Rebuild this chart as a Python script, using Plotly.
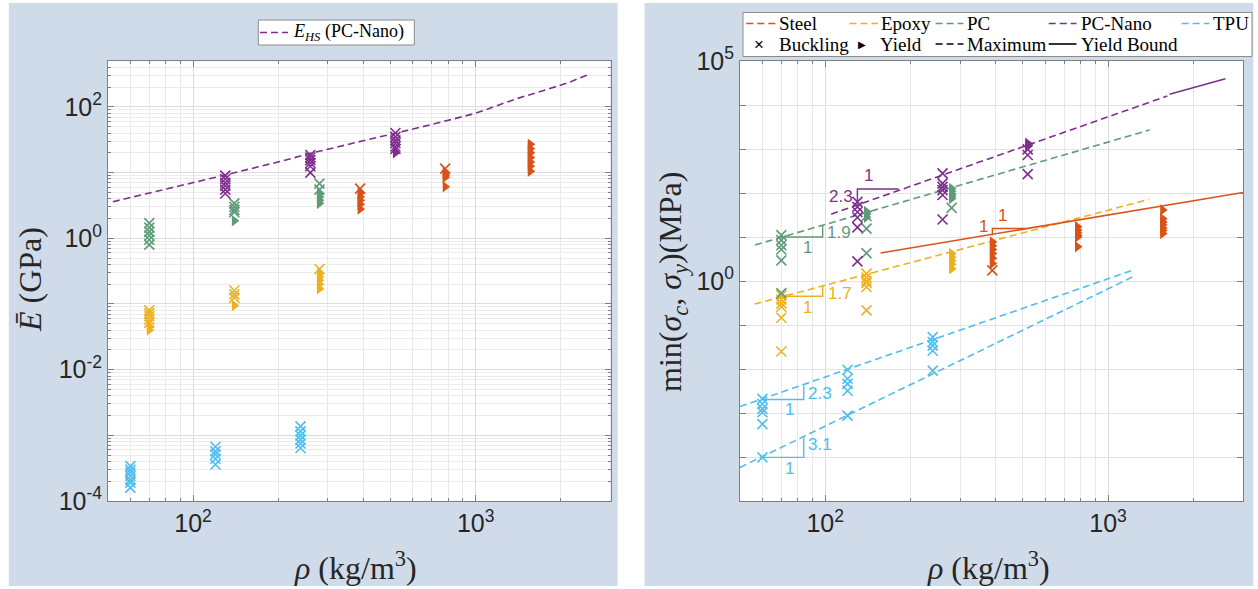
import numpy as np
import plotly.graph_objects as go

# ------------------------------------------------------------------ data
# LEFT PANEL : effective modulus E (GPa) vs density rho (kg/m^3)
E_steel_buck_rho = [390, 780]
E_steel_buck = [5.7, 11.5]
E_steel_yld_rho = [390] * 5 + [780] * 4 + [1560] * 7
E_steel_yld = [4.9, 4.3, 3.8, 3.3, 2.8,
               10.0, 9.2, 8.5, 6.1,
               27, 23, 20, 17, 14.5, 12.5, 10.5]

E_epoxy_buck_rho = [70] * 5 + [140] * 3 + [280]
E_epoxy_buck = [0.080, 0.072, 0.065, 0.058, 0.052, 0.16, 0.14, 0.125, 0.34]
E_epoxy_yld_rho = [70] * 2 + [140] + [280] * 5
E_epoxy_yld = [0.045, 0.040, 0.095, 0.29, 0.26, 0.23, 0.20, 0.17]

E_pc_buck_rho = [70] * 6 + [140] * 4 + [280] * 2
E_pc_buck = [1.7, 1.45, 1.25, 1.1, 0.95, 0.8, 3.4, 3.0, 2.7, 2.5, 6.8, 5.5]
E_pc_yld_rho = [140] + [280] * 4
E_pc_yld = [1.85, 4.8, 4.3, 3.8, 3.4]

E_nano_buck_rho = [130] * 6 + [260] * 6 + [520] * 6
E_nano_buck = [9.0, 8.0, 7.0, 6.3, 5.5, 4.8,
               18.5, 17.0, 15.5, 14.0, 12.5, 10.0,
               40, 35, 31, 28, 25, 23]
E_nano_yld_rho = [520]
E_nano_yld = [20]

E_tpu_buck_rho = [60] * 7 + [120] * 5 + [240] * 6
E_tpu_buck = [3.4e-4, 3.0e-4, 2.7e-4, 2.4e-4, 2.1e-4, 1.9e-4, 1.6e-4,
              6.7e-4, 5.7e-4, 5.1e-4, 4.4e-4, 3.6e-4,
              1.37e-3, 1.15e-3, 9.9e-4, 8.6e-4, 7.5e-4, 6.4e-4]

# Hashin-Shtrikman bound for PC-Nano
ehs_rho = [52, 70, 100, 130, 200, 260, 400, 520, 700, 1000, 1400, 1830, 2160, 2550]
ehs_E = [3.6, 4.85, 6.95, 9.2, 14.5, 19.6, 30.5, 39.4, 54, 80, 134, 190, 240, 320]

# RIGHT PANEL : strength min(sigma_c, sigma_y) (MPa)
S_steel_buck_rho = [390]
S_steel_buck = [1.75]
S_steel_yld_rho = [390] * 6 + [780] * 6 + [1560] * 7
S_steel_yld = [7.7, 6.3, 5.2, 4.2, 3.3, 2.5,
               17, 14.5, 12.5, 11, 10, 6,
               41, 26, 22, 19, 16, 14, 12]

S_epoxy_buck_rho = [70] * 6 + [140] * 6
S_epoxy_buck = [0.47, 0.38, 0.31, 0.26, 0.146, 0.025,
                1.47, 1.2, 1.0, 0.9, 0.73, 0.215]
S_epoxy_yld_rho = [280] * 5
S_epoxy_yld = [4.2, 3.5, 2.9, 2.4, 1.9]

S_pc_buck_rho = [70] * 6 + [140] * 3 + [280]
S_pc_buck = [11, 8.5, 6.5, 5.2, 2.95, 0.53, 30, 15.5, 4.3, 46]
S_pc_yld_rho = [140] * 3 + [280] * 5
S_pc_yld = [38, 33, 28, 127, 110, 95, 85, 75]

S_nano_buck_rho = [130] * 6 + [260] * 6 + [520] * 3
S_nano_buck = [63, 48.5, 37, 27.8, 16.5, 2.8,
               280, 165, 138, 116, 90, 25,
               984, 730, 269]
S_nano_yld_rho = [520] * 2
S_nano_yld = [1350, 1150]

S_tpu_buck_rho = [60] * 6 + [120] * 5 + [240] * 5
S_tpu_buck = [2.1e-3, 1.6e-3, 1.24e-3, 1.04e-3, 5.6e-4, 9.8e-5,
              9.6e-3, 6.0e-3, 4.6e-3, 3.2e-3, 8.7e-4,
              0.053, 0.041, 0.034, 0.026, 9.2e-3]

# "Maximum" fits (dashed) : [rho_start, rho_end], [sigma_start, sigma_end]
max_nano_rho, max_nano_s = [105, 1620], [33, 16000]
max_pc_rho, max_pc_s = [56.5, 1403], [6.6, 2710]
max_epoxy_rho, max_epoxy_s = [56.3, 1393], [0.30, 71.5]
max_tpu1_rho, max_tpu1_s = [50, 1222], [1.4e-3, 1.76]
max_tpu2_rho, max_tpu2_s = [50, 1222], [5.8e-5, 1.24]
# "Yield bound" fits (solid)
yb_steel_rho, yb_steel_s = [157, 3000], [4.34, 103]
yb_nano_rho, yb_nano_s = [1650, 2600], [17600, 39300]

# slope triangles (rho, sigma) vertices and their labels
tri_tpu1_rho, tri_tpu1_s = [60, 84, 84], [2.02e-3, 2.02e-3, 4.2e-3]
tri_tpu2_rho, tri_tpu2_s = [60, 84, 84], [9.8e-5, 9.8e-5, 2.8e-4]
tri_pc_rho, tri_pc_s = [70, 98, 98], [10, 10, 18.6]
tri_epoxy_rho, tri_epoxy_s = [70, 98, 98], [0.45, 0.45, 0.77]
tri_nano_rho, tri_nano_s = [130, 130, 182], [58, 123, 123]
tri_steel_rho, tri_steel_s = [390, 390, 514], [11, 15.6, 15.6]

slope_text = ['2.3', '1', '3.1', '1', '1.9', '1', '1.7', '1', '2.3', '1', '1', '1']
slope_rho = [96, 74.6, 96, 74.6, 112, 86.7, 112.5, 86.7, 113.6, 142.5, 364, 425]
slope_s = [2.72e-3, 1.18e-3, 1.9e-4, 5.5e-5, 12.4, 5.65, 0.51, 0.256, 85, 256, 17, 31.4]

# axis tick labels
x_tickvals = [100, 1000]
x_ticktext = ['10<sup>2</sup>', '10<sup>3</sup>']

# ------------------------------------------------------------------ style
C_STEEL = '#D95319'
C_EPOXY = '#EDB120'
C_PC = '#5F9B78'
C_NANO = '#7E2F8E'
C_TPU = '#4DBEEE'
BG = '#D0DBE9'
AX = '#7F7F7F'
TXT = '#262626'
SANS = 'Liberation Sans'
SERIF = 'Liberation Serif'

W, H = 1258, 589
ML, MR, MT, MB = 108, 15, 61, 88
PW, PH = W - ML - MR, H - MT - MB


def px(x):
    return (x - ML) / PW


def py(y):
    return (H - MB - y) / PH


fig = go.Figure()


def add_markers(rho, val, color, symbol, xa, ya):
    if symbol == 'x':
        mk = dict(symbol='x-thin', size=10, color=color, line=dict(color=color, width=1.6))
    else:
        mk = dict(symbol='triangle-right', size=10, color=color, line=dict(width=0))
    fig.add_trace(go.Scatter(x=rho, y=val, mode='markers', marker=mk,
                             xaxis=xa, yaxis=ya, showlegend=False, hoverinfo='skip'))


def add_line(rho, val, color, dash, xa, ya, width=1.6):
    fig.add_trace(go.Scatter(x=rho, y=val, mode='lines',
                             line=dict(color=color, width=width, dash=dash),
                             xaxis=xa, yaxis=ya, showlegend=False, hoverinfo='skip'))


DASH = '7px,4px'

# left panel
add_line(ehs_rho, ehs_E, C_NANO, DASH, 'x', 'y')
add_markers(E_tpu_buck_rho, E_tpu_buck, C_TPU, 'x', 'x', 'y')
add_markers(E_epoxy_buck_rho, E_epoxy_buck, C_EPOXY, 'x', 'x', 'y')
add_markers(E_epoxy_yld_rho, E_epoxy_yld, C_EPOXY, 't', 'x', 'y')
add_markers(E_pc_buck_rho, E_pc_buck, C_PC, 'x', 'x', 'y')
add_markers(E_pc_yld_rho, E_pc_yld, C_PC, 't', 'x', 'y')
add_markers(E_nano_buck_rho, E_nano_buck, C_NANO, 'x', 'x', 'y')
add_markers(E_nano_yld_rho, E_nano_yld, C_NANO, 't', 'x', 'y')
add_markers(E_steel_buck_rho, E_steel_buck, C_STEEL, 'x', 'x', 'y')
add_markers(E_steel_yld_rho, E_steel_yld, C_STEEL, 't', 'x', 'y')

# right panel lines
add_line(max_nano_rho, max_nano_s, C_NANO, DASH, 'x2', 'y2')
add_line(yb_nano_rho, yb_nano_s, C_NANO, 'solid', 'x2', 'y2')
add_line(max_pc_rho, max_pc_s, C_PC, DASH, 'x2', 'y2')
add_line(max_epoxy_rho, max_epoxy_s, C_EPOXY, DASH, 'x2', 'y2')
add_line(max_tpu1_rho, max_tpu1_s, C_TPU, DASH, 'x2', 'y2')
add_line(max_tpu2_rho, max_tpu2_s, C_TPU, DASH, 'x2', 'y2')
add_line(yb_steel_rho, yb_steel_s, C_STEEL, 'solid', 'x2', 'y2')
for tr, ts, c in [(tri_tpu1_rho, tri_tpu1_s, C_TPU), (tri_tpu2_rho, tri_tpu2_s, C_TPU),
                  (tri_pc_rho, tri_pc_s, C_PC), (tri_epoxy_rho, tri_epoxy_s, C_EPOXY),
                  (tri_nano_rho, tri_nano_s, C_NANO), (tri_steel_rho, tri_steel_s, C_STEEL)]:
    add_line(tr, ts, c, 'solid', 'x2', 'y2', width=1.4)

# right panel markers
add_markers(S_tpu_buck_rho, S_tpu_buck, C_TPU, 'x', 'x2', 'y2')
add_markers(S_epoxy_buck_rho, S_epoxy_buck, C_EPOXY, 'x', 'x2', 'y2')
add_markers(S_epoxy_yld_rho, S_epoxy_yld, C_EPOXY, 't', 'x2', 'y2')
add_markers(S_pc_buck_rho, S_pc_buck, C_PC, 'x', 'x2', 'y2')
add_markers(S_pc_yld_rho, S_pc_yld, C_PC, 't', 'x2', 'y2')
add_markers(S_nano_buck_rho, S_nano_buck, C_NANO, 'x', 'x2', 'y2')
add_markers(S_nano_yld_rho, S_nano_yld, C_NANO, 't', 'x2', 'y2')
add_markers(S_steel_buck_rho, S_steel_buck, C_STEEL, 'x', 'x2', 'y2')
add_markers(S_steel_yld_rho, S_steel_yld, C_STEEL, 't', 'x2', 'y2')

# ------------------------------------------------------------------ axes
x_minor = [60, 70, 80, 90, 200, 300, 400, 500, 600, 700, 800, 900, 2000, 3000]
common_x = dict(type='log', range=[np.log10(50), np.log10(3000)],
                tickmode='array', tickvals=x_tickvals, ticktext=x_ticktext,
                ticks='inside', ticklen=6, tickcolor=AX, showline=True, linecolor=AX,
                linewidth=1, mirror='ticks', showgrid=True, gridcolor='#DCDCDC',
                zeroline=False, tickfont=dict(family=SANS, size=25, color=TXT),
                minor=dict(tickmode='array', tickvals=x_minor, ticks='inside', ticklen=3,
                           tickcolor=AX, showgrid=True, gridcolor='#E8E8E8'))

ly_major = [10.0 ** k for k in range(-4, 3)]
ly_text = ['10<sup>%d</sup>' % k if k % 2 == 0 else '' for k in range(-4, 3)]
ly_minor = [m * 10.0 ** k for k in range(-4, 3) for m in range(2, 10) if m * 10.0 ** k <= 500]
ry_major = [10.0 ** k for k in range(-5, 6)]
ry_text = ['10<sup>%d</sup>' % k if k in (0, 5) else '' for k in range(-5, 6)]

fig.update_layout(
    width=W, height=H, autosize=False,
    margin=dict(l=ML, r=MR, t=MT, b=MB, pad=0),
    paper_bgcolor=BG, plot_bgcolor='white', showlegend=False,
    xaxis=dict(domain=[0, px(610.5)], anchor='y', **common_x),
    xaxis2=dict(domain=[px(740), 1], anchor='y2', **common_x),
    yaxis=dict(type='log', range=[-4, np.log10(500)], anchor='x',
               tickmode='array', tickvals=ly_major, ticktext=ly_text,
               ticks='inside', ticklen=6, tickcolor=AX, showline=True, linecolor=AX,
               mirror='ticks', showgrid=True, gridcolor='#DCDCDC', zeroline=False,
               tickfont=dict(family=SANS, size=25, color=TXT),
               minor=dict(tickmode='array', tickvals=ly_minor, ticks='inside', ticklen=3,
                          tickcolor=AX, showgrid=True, gridcolor='#EBEBEB')),
    yaxis2=dict(type='log', range=[-5, 5], anchor='x2',
                tickmode='array', tickvals=ry_major, ticktext=ry_text,
                ticks='inside', ticklen=6, tickcolor=AX, showline=True, linecolor=AX,
                mirror='ticks', showgrid=True, gridcolor='#E3E3E3', zeroline=False,
                tickfont=dict(family=SANS, size=25, color=TXT)),
)

shapes = []
ann = []
# white page border and gap between the two panels
for x0, x1 in [(-10, 8.8), (617.7, 644.5), (1253.3, W + 10)]:
    shapes.append(dict(type='rect', xref='paper', yref='paper', x0=px(x0), x1=px(x1),
                       y0=py(H + 10), y1=py(-10), fillcolor='white', line=dict(width=0),
                       layer='below'))
for y0, y1 in [(-10, 3), (586, H + 10)]:
    shapes.append(dict(type='rect', xref='paper', yref='paper', x0=px(-10), x1=px(W + 10),
                       y0=py(y1), y1=py(y0), fillcolor='white', line=dict(width=0),
                       layer='below'))

# slope labels
slope_colors = [C_TPU] * 4 + [C_PC] * 2 + [C_EPOXY] * 2 + [C_NANO] * 2 + [C_STEEL] * 2
for t, r, s, c in zip(slope_text, slope_rho, slope_s, slope_colors):
    ann.append(dict(x=np.log10(r), y=np.log10(s), xref='x2', yref='y2', text=t,
                    showarrow=False, font=dict(family=SANS, size=17, color=c),
                    xanchor='center', yanchor='middle'))

# axis titles
tfont = dict(family=SERIF, size=32, color=TXT)
for xc in (355, 988):
    ann.append(dict(x=px(xc), y=py(566), xref='paper', yref='paper', showarrow=False,
                    xanchor='center', yanchor='middle',
                    text='<i>ρ</i> (kg/m<sup>3</sup>)', font=tfont))
ann.append(dict(x=px(30), y=py(280), xref='paper', yref='paper', showarrow=False,
                xanchor='center', yanchor='middle',
                text='<i>Ē</i> (GPa)', font=tfont, textangle=-90))
ann.append(dict(x=px(672), y=py(282), xref='paper', yref='paper', showarrow=False,
                xanchor='center', yanchor='middle',
                text='min(<i>σ</i><sub><i>c</i></sub>, <i>σ</i><sub><i>y</i></sub>)(MPa)',
                font=tfont, textangle=-90))

# left legend
shapes.append(dict(type='rect', xref='paper', yref='paper', x0=px(258.3), x1=px(414.3),
                   y0=py(45), y1=py(20), fillcolor='white', line=dict(color='#8C8C8C', width=1)))
shapes.append(dict(type='line', xref='paper', yref='paper', x0=px(260), x1=px(288),
                   y0=py(32.5), y1=py(32.5), line=dict(color=C_NANO, width=1.6, dash=DASH)))
ann.append(dict(x=px(291), y=py(32.5), xref='paper', yref='paper', showarrow=False,
                xanchor='left', yanchor='middle',
                text='<i>E</i><sub><i>HS</i></sub> (PC-Nano)',
                font=dict(family=SERIF, size=18, color='black')))

# right legend
shapes.append(dict(type='rect', xref='paper', yref='paper', x0=px(743), x1=px(1252),
                   y0=py(56.5), y1=py(12.5), fillcolor='white', line=dict(color='#8C8C8C', width=1)))
lfont = dict(family=SERIF, size=19, color='black')
row1 = [(746.3, 775.7, 777, 'Steel', C_STEEL), (849.5, 878, 879.3, 'Epoxy', C_EPOXY),
        (935.6, 963.4, 965.4, 'PC', C_PC), (1048.7, 1076.5, 1078.5, 'PC-Nano', C_NANO),
        (1181.7, 1209.4, 1211.4, 'TPU', C_TPU)]
for a, b, tx, lab, c in row1:
    shapes.append(dict(type='line', xref='paper', yref='paper', x0=px(a), x1=px(b),
                       y0=py(23.5), y1=py(23.5), line=dict(color=c, width=1.6, dash=DASH)))
    ann.append(dict(x=px(tx), y=py(23.5), xref='paper', yref='paper', showarrow=False,
                    xanchor='left', yanchor='middle', text=lab, font=lfont))
shapes.append(dict(type='line', xref='paper', yref='paper', x0=px(935.6), x1=px(963.4),
                   y0=py(44), y1=py(44), line=dict(color='black', width=1.6, dash=DASH)))
shapes.append(dict(type='line', xref='paper', yref='paper', x0=px(1048.7), x1=px(1076.5),
                   y0=py(44), y1=py(44), line=dict(color='black', width=1.6)))
row2 = [(777, 'Buckling'), (878, 'Yield'), (965.4, 'Maximum'), (1078.5, 'Yield Bound')]
for tx, lab in row2:
    ann.append(dict(x=px(tx), y=py(44), xref='paper', yref='paper', showarrow=False,
                    xanchor='left', yanchor='middle', text=lab, font=lfont))
ann.append(dict(x=px(759), y=py(44), xref='paper', yref='paper', showarrow=False,
                xanchor='center', yanchor='middle', text='×',
                font=dict(family=SANS, size=17, color='black')))
ann.append(dict(x=px(862), y=py(44), xref='paper', yref='paper', showarrow=False,
                xanchor='center', yanchor='middle', text='▶',
                font=dict(family='DejaVu Sans', size=10, color='black')))

fig.update_layout(shapes=shapes, annotations=ann)
fig.write_html('out.html', config={'displayModeBar': False},
               post_script="document.body.style.margin='0';document.body.style.padding='0';")
